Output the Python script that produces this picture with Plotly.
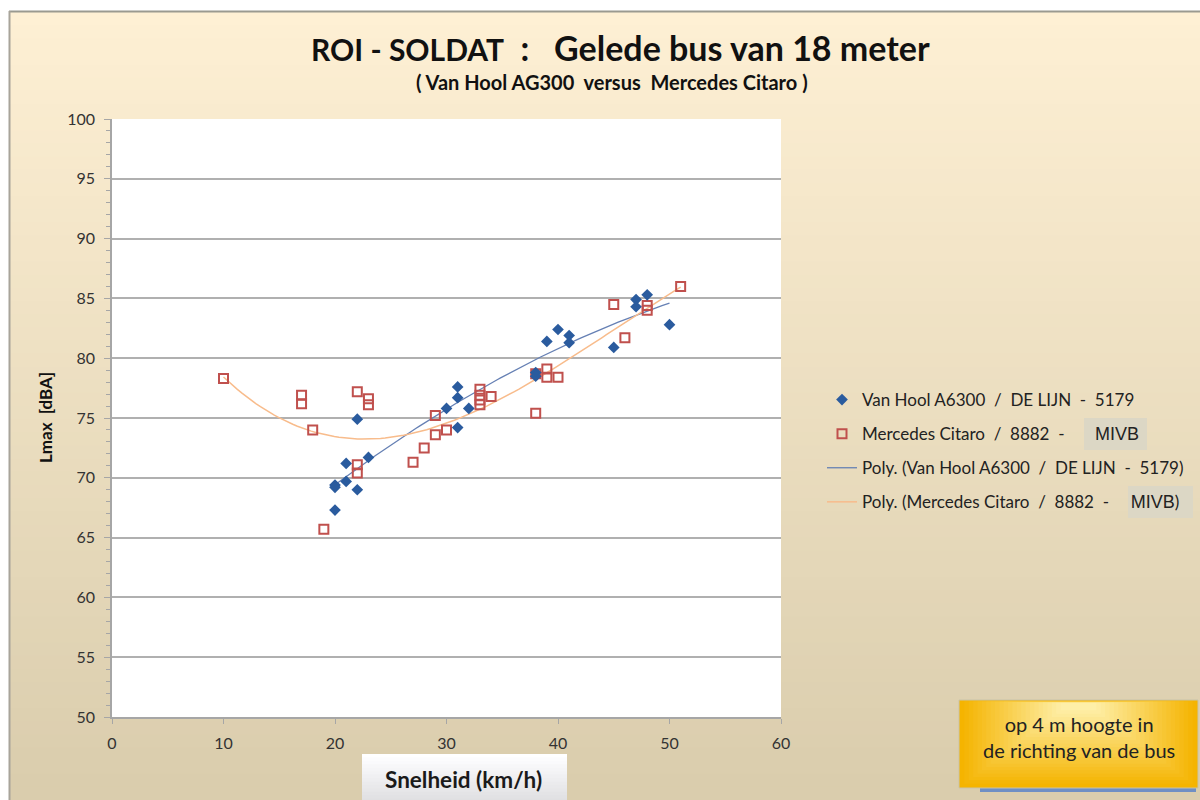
import numpy as np
import plotly.graph_objects as go

# ---------------- data ----------------
vh_speed = [22, 21, 23, 20, 20, 21, 22, 20,
            31, 31, 30, 32, 31,
            38, 38, 39, 40, 41, 41, 45, 47, 47, 48, 50]
vh_lmax = [74.9, 71.2, 71.7, 69.4, 69.2, 69.7, 69.0, 67.3,
           77.6, 76.7, 75.8, 75.8, 74.2,
           78.8, 78.5, 81.4, 82.4, 81.9, 81.3, 80.9, 84.9, 84.3, 85.3, 82.8]

mc_speed = [10, 17, 17, 18, 22, 23, 23, 22, 22, 19,
            27, 28, 29, 29, 30, 33, 33, 33, 33, 34,
            38, 38, 39, 39, 40, 45, 46, 48, 48, 51]
mc_lmax = [78.3, 76.9, 76.2, 74.0, 77.2, 76.6, 76.1, 71.1, 70.4, 65.7,
           71.3, 72.5, 73.6, 75.2, 74.0, 77.4, 76.9, 76.5, 76.1, 76.8,
           78.7, 75.4, 79.1, 78.4, 78.4, 84.5, 81.7, 84.4, 84.0, 86.0]

x_ticks = [0, 10, 20, 30, 40, 50, 60]
y_ticks = [50, 55, 60, 65, 70, 75, 80, 85, 90, 95, 100]

NB = "\u00a0"


def keep_spaces(s):
    return s.replace(" ", NB)


title_a = keep_spaces("ROI - SOLDAT")
title_b = keep_spaces("  :   Gelede bus van 18 meter")
subtitle = keep_spaces("( Van Hool AG300  versus  Mercedes Citaro )")
mivb = "<span style='font-family:Liberation Sans;font-size:18px'>MIVB</span>"
name_vh = keep_spaces("Van Hool A6300  /  DE LIJN  -  5179")
name_mc = keep_spaces("Mercedes Citaro  /  8882  -       ") + mivb
name_pvh = keep_spaces("Poly. (Van Hool A6300  /  DE LIJN  -  5179)")
name_pmc = keep_spaces("Poly. (Mercedes Citaro  /  8882  -     ") + mivb + ")"
note_text = "op 4 m hoogte in<br>de richting van de bus"
x_title = "Snelheid (km/h)"
y_title = keep_spaces("Lmax  [dBA]")

# ---------------- trendlines (polynomial fits of the data) ----------------
c_vh = np.polyfit(vh_speed, vh_lmax, 2)
c_mc = np.polyfit(mc_speed, mc_lmax, 3)
xv = np.linspace(min(vh_speed), max(vh_speed), 100)
xm = np.linspace(min(mc_speed), max(mc_speed), 100)

# ---------------- layout geometry ----------------
W, H = 1200, 800
L, R, T, B = 112, 781, 119, 717


def xp(px):
    return (px - L) / (R - L)


def yp(py):
    return (B - py) / (B - T)


FONT = "Lato"

fig = go.Figure()

fig.add_trace(go.Scatter(
    x=xv, y=np.polyval(c_vh, xv), mode="lines", name=name_pvh,
    line=dict(color="#6680B4", width=1.3), legendgroup="c", legendrank=3,
    hoverinfo="skip"))
fig.add_trace(go.Scatter(
    x=xm, y=np.polyval(c_mc, xm), mode="lines", name=name_pmc,
    line=dict(color="#F8BC8C", width=1.5), legendgroup="d", legendrank=4,
    hoverinfo="skip"))
fig.add_trace(go.Scatter(
    x=mc_speed, y=mc_lmax, mode="markers", name=name_mc,
    marker=dict(symbol="square-open", size=9, color="#C0504D",
                line=dict(width=2, color="#C0504D")),
    legendgroup="b", legendrank=2))
fig.add_trace(go.Scatter(
    x=vh_speed, y=vh_lmax, mode="markers", name=name_vh,
    marker=dict(symbol="diamond", size=9, color="#2A5B9E"),
    legendgroup="a", legendrank=1))

shapes = []
# slide background gradient
n = 60
top = np.array([0xFE, 0xF0, 0xD4])
bot = np.array([0xDA, 0xCD, 0xAD])
y0 = 12
for i in range(n):
    f = i / (n - 1)
    c = (top * (1 - f) + bot * f).astype(int)
    ya = y0 + (H - y0) * i / n
    yb = y0 + (H - y0) * (i + 1) / n + 1
    shapes.append(dict(type="rect", xref="paper", yref="paper", layer="below",
                       x0=xp(10), x1=xp(W + 5), y0=yp(yb), y1=yp(ya),
                       line=dict(width=0),
                       fillcolor="rgb(%d,%d,%d)" % tuple(c)))
# slide frame lines
shapes.append(dict(type="line", xref="paper", yref="paper", layer="below",
                   x0=xp(9), x1=xp(W + 5), y0=yp(11.5), y1=yp(11.5),
                   line=dict(color="#9A9A90", width=2)))
shapes.append(dict(type="line", xref="paper", yref="paper", layer="below",
                   x0=xp(9.5), x1=xp(9.5), y0=yp(11), y1=yp(H + 5),
                   line=dict(color="#A8A49A", width=2)))
# white plot area
shapes.append(dict(type="rect", xref="x", yref="y", layer="below",
                   x0=0, x1=60, y0=50, y1=100, line=dict(width=0),
                   fillcolor="white"))

# MIVB highlight boxes in legend
for (a, b, c_, d) in [(1084, 1147, 418, 450), (1128, 1193, 486, 518)]:
    shapes.append(dict(type="rect", xref="paper", yref="paper", layer="below",
                       x0=xp(a), x1=xp(b), y0=yp(d), y1=yp(c_),
                       line=dict(width=0), fillcolor="#DCD7C5"))

# x-axis title box (light gradient)
m = 14
for i in range(m):
    f = i / (m - 1)
    v = int(255 * (1 - f) + 224 * f)
    ya = 754 + (H + 2 - 754) * i / m
    yb = 754 + (H + 2 - 754) * (i + 1) / m + 1
    shapes.append(dict(type="rect", xref="paper", yref="paper",
                       x0=xp(362), x1=xp(567), y0=yp(yb), y1=yp(ya),
                       line=dict(width=0),
                       fillcolor="rgb(%d,%d,%d)" % (v, v, min(255, v + 2))))

# note box: shadow + gold radial-ish gradient
shapes.append(dict(type="rect", xref="paper", yref="paper",
                   x0=xp(980), x1=xp(1196), y0=yp(792), y1=yp(788),
                   line=dict(width=0), fillcolor="#6F8FC4"))
shapes.append(dict(type="rect", xref="paper", yref="paper",
                   x0=xp(959), x1=xp(1198), y0=yp(788), y1=yp(700),
                   line=dict(color="#C9C3A8", width=1), fillcolor="#F5B400"))
k = 24
for i in range(1, k):
    f = i / k
    r_ = 0xF5 + (0xFF - 0xF5) * f
    g_ = 0xB4 + (0xF2 - 0xB4) * f
    b_ = 0x00 + (0xB0 - 0x00) * f
    shapes.append(dict(type="rect", xref="paper", yref="paper",
                       x0=xp(960 + 105 * f), x1=xp(1197 - 105 * f),
                       y0=yp(787 - 80 * f), y1=yp(701 + 2 * f),
                       line=dict(width=0),
                       fillcolor="rgb(%d,%d,%d)" % (r_, g_, b_)))


def ann(text, x, y, size, color="#111111", angle=0, family=FONT):
    return dict(text=text, x=xp(x), y=yp(y), xref="paper", yref="paper",
                showarrow=False, xanchor="center", yanchor="middle",
                textangle=angle, align="center",
                font=dict(family=family, size=size, color=color))


annotations = [
    ann("<b>%s<span style='font-size:34px'>%s</span></b>" % (title_a, title_b),
        620, 48, 30),
    ann("<b>%s</b>" % subtitle, 612, 82, 20),
    ann("<b>%s</b>" % y_title, 45, 418, 17, angle=-90),
    ann("<b>%s</b>" % x_title, 463, 779, 22.5, color="#1A1A1A"),
    ann(note_text, 1079, 737, 20, color="#222222"),
]

fig.update_layout(
    width=W, height=H,
    margin=dict(l=L, r=W - R, t=T, b=H - B, pad=0, autoexpand=False),
    paper_bgcolor="white", plot_bgcolor="white",
    font=dict(family=FONT, size=16, color="#333333"),
    showlegend=True,
    legend=dict(x=xp(822), y=yp(382), xanchor="left", yanchor="top",
                bgcolor="rgba(0,0,0,0)", font=dict(family=FONT, size=17,
                                                   color="#222222"),
                traceorder="grouped", tracegroupgap=9, itemwidth=30),
    shapes=shapes, annotations=annotations,
    xaxis=dict(range=[0, 60], tickvals=x_ticks, showgrid=False,
               zeroline=False, showline=True, linecolor="#A6A6A6",
               linewidth=1.5, ticks="outside", ticklen=5,
               tickcolor="#A6A6A6", tickfont=dict(size=16, color="#333333"),
               ticklabelstandoff=6, automargin=False),
    yaxis=dict(range=[50, 100], tickvals=y_ticks, showgrid=True,
               gridcolor="#B0B0B0", gridwidth=1.5, zeroline=False,
               showline=True, linecolor="#A6A6A6", linewidth=1.5,
               ticks="outside", ticklen=6, tickcolor="#A6A6A6",
               minor=dict(dtick=1, ticks="outside", ticklen=4,
                          tickcolor="#A6A6A6", showgrid=False),
               tickfont=dict(size=16, color="#333333"),
               ticklabelstandoff=6, automargin=False),
)

fig.write_html("out.html", config={"displayModeBar": False},
               post_script="document.body.style.margin='0px';"
                           "document.body.style.overflow='hidden';")
